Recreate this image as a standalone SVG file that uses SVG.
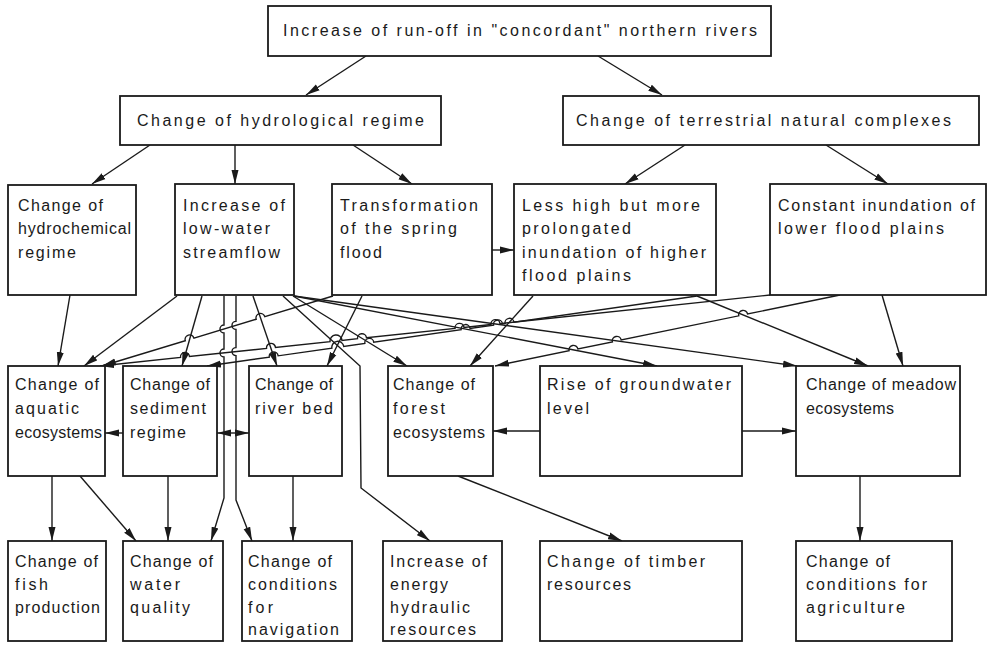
<svg xmlns="http://www.w3.org/2000/svg" width="996" height="656" viewBox="0 0 996 656">
  <defs>
    <marker id="arr" viewBox="0 0 14 8" refX="14" refY="4" markerWidth="14" markerHeight="8" markerUnits="userSpaceOnUse" orient="auto">
      <path d="M0,0.5 L14,4 L0,7.5 z" fill="#1a1a1a"/>
    </marker>
    <marker id="arrs" viewBox="0 0 14 8" refX="14" refY="4" markerWidth="14" markerHeight="8" markerUnits="userSpaceOnUse" orient="auto-start-reverse">
      <path d="M0,0.5 L14,4 L0,7.5 z" fill="#1a1a1a"/>
    </marker>
  </defs>
  <style>
    .box { fill: #fff; stroke: #1a1a1a; stroke-width: 1.8; }
    .t { font-family: "Liberation Sans", "DejaVu Sans", sans-serif; font-size: 16px; fill: #1a1a1a; }
    .h { font-family: "Liberation Sans Narrow", "Liberation Sans", sans-serif; font-size: 16px; fill: #1a1a1a; }
    .c { fill: none; stroke: #1a1a1a; stroke-width: 1.4; marker-end: url(#arr); }
    .cb { fill: none; stroke: #1a1a1a; stroke-width: 1.4; marker-start: url(#arrs); marker-end: url(#arr); }
  </style>
  <rect width="996" height="656" fill="#fff"/>

  <!-- connectors; crossing lines hop over each other with small arcs -->
  <g id="connectors">
    <line class="c" x1="366" y1="56" x2="306" y2="95"/>
    <line class="c" x1="598" y1="56" x2="662" y2="95"/>
    <line class="c" x1="150" y1="145" x2="92" y2="184"/>
    <line class="c" x1="235" y1="145" x2="235" y2="184"/>
    <line class="c" x1="353" y1="145" x2="412" y2="184"/>
    <line class="c" x1="685" y1="145" x2="625" y2="184"/>
    <line class="c" x1="826" y1="145" x2="888" y2="184"/>
    <line class="c" x1="492" y1="250" x2="514" y2="250"/>

    <!-- into the third row -->
    <line class="c" x1="70" y1="295" x2="58" y2="366"/>
    <line class="c" x1="177" y1="296" x2="84" y2="366"/>
    <line class="c" x1="202" y1="296" x2="182" y2="366"/>
    <path class="c" d="M224,296 L224,325 A4,4 0 0 0 224,333 L224,349 A4,4 0 0 0 224,357 L224,498 L211,541"/>
    <path class="c" d="M236,296 L236,321.4 A4,4 0 0 0 236,329.4 L236,347.6 A4,4 0 0 0 236,355.6 L236,500 L252,541"/>
    <line class="c" x1="253" y1="296" x2="277" y2="366"/>
    <polyline class="c" points="283,296 360,366 361,488 430,541"/>
    <line class="c" x1="293" y1="296" x2="407" y2="366"/>
    <line class="c" x1="294" y1="296" x2="657" y2="366"/>
    <line class="c" x1="294" y1="296" x2="797" y2="366"/>
    <path class="c" d="M333,296 L264.81,316.67 A4.5,4.5 0 0 0 256.19,319.27 L193.91,338.15 A4.5,4.5 0 0 0 185.29,340.75 L102,366"/>
    <line class="c" x1="362" y1="296" x2="327" y2="366"/>
    <line class="c" x1="533" y1="296" x2="470" y2="366"/>
    <path class="c" d="M697,296 L513.96,322.15 A4.5,4.5 0 0 0 505.05,323.42 L502.46,323.79 A4.5,4.5 0 0 0 493.55,325.07 L470.06,328.42 A4.5,4.5 0 0 0 461.15,329.69 L373.76,342.17 A4.5,4.5 0 0 0 364.85,343.45 L343.74,346.46 A6,6 0 0 0 331.86,348.16 L278.16,355.83 A4.5,4.5 0 0 0 269.25,357.11 L207,366"/>
    <line class="c" x1="697" y1="296" x2="868" y2="366"/>
    <path class="c" d="M770,295 L499.98,323.62 A4.5,4.5 0 0 0 491.02,324.56 L463.98,327.43 A4.5,4.5 0 0 0 455.02,328.37 L366.48,337.77 A4.5,4.5 0 0 0 357.52,338.71 L341.97,340.36 A6,6 0 0 0 330.03,341.62 L275.48,347.41 A4.5,4.5 0 0 0 266.52,348.35 L189.48,356.52 A4.5,4.5 0 0 0 180.52,357.46 L100,366"/>
    <path class="c" d="M840,295 L747.61,314.01 A4.5,4.5 0 0 0 738.79,315.83 L621.21,340.02 A4.5,4.5 0 0 0 612.39,341.84 L577.91,348.94 A4.5,4.5 0 0 0 569.09,350.76 L495,366"/>
    <line class="c" x1="882" y1="295" x2="903" y2="366"/>

    <!-- within the third row -->
    <line class="c" x1="123" y1="433" x2="105" y2="433"/>
    <line class="cb" x1="217" y1="433" x2="249" y2="433"/>
    <line class="c" x1="540" y1="431" x2="493" y2="431"/>
    <line class="c" x1="740" y1="431" x2="796" y2="431"/>

    <!-- into the bottom row -->
    <line class="c" x1="52" y1="476" x2="52" y2="541"/>
    <line class="c" x1="80" y1="476" x2="136" y2="541"/>
    <line class="c" x1="168" y1="476" x2="168" y2="541"/>
    <line class="c" x1="293" y1="476" x2="293" y2="541"/>
    <line class="c" x1="458" y1="476" x2="622" y2="541"/>
    <line class="c" x1="860" y1="476" x2="860" y2="541"/>
  </g>

  <!-- nodes -->
  <g id="n-runoff">
    <rect class="box" x="268" y="6" width="503" height="50"/>
    <text class="h" x="283" y="36" textLength="474" lengthAdjust="spacing">Increase of run-off in "concordant" northern rivers</text>
  </g>
  <g id="n-hydro">
    <rect class="box" x="120" y="96" width="321" height="49"/>
    <text class="h" x="137" y="126" textLength="287" lengthAdjust="spacing">Change of hydrological regime</text>
  </g>
  <g id="n-terr">
    <rect class="box" x="563" y="96" width="416" height="49"/>
    <text class="h" x="576" y="126" textLength="375" lengthAdjust="spacing">Change of terrestrial natural complexes</text>
  </g>

  <g id="n-hydrochem">
    <rect class="box" x="8" y="185" width="128" height="110"/>
    <text class="t" x="18" y="211" textLength="85" lengthAdjust="spacing">Change of</text>
    <text class="t" x="18" y="234" textLength="113" lengthAdjust="spacing">hydrochemical</text>
    <text class="t" x="18" y="258" textLength="58" lengthAdjust="spacing">regime</text>
  </g>
  <g id="n-lowwater">
    <rect class="box" x="175" y="184" width="119" height="111"/>
    <text class="t" x="183" y="211" textLength="102" lengthAdjust="spacing">Increase of</text>
    <text class="t" x="183" y="234" textLength="87" lengthAdjust="spacing">low-water</text>
    <text class="t" x="183" y="258" textLength="97" lengthAdjust="spacing">streamflow</text>
  </g>
  <g id="n-spring">
    <rect class="box" x="332" y="184" width="160" height="111"/>
    <text class="t" x="340" y="211" textLength="138" lengthAdjust="spacing">Transformation</text>
    <text class="t" x="340" y="234" textLength="117" lengthAdjust="spacing">of the spring</text>
    <text class="t" x="340" y="258" textLength="42" lengthAdjust="spacing">flood</text>
  </g>
  <g id="n-higher">
    <rect class="box" x="514" y="184" width="202" height="111"/>
    <text class="t" x="522" y="211" textLength="178" lengthAdjust="spacing">Less high but more</text>
    <text class="t" x="522" y="234" textLength="109" lengthAdjust="spacing">prolongated</text>
    <text class="t" x="522" y="258" textLength="184" lengthAdjust="spacing">inundation of higher</text>
    <text class="t" x="522" y="281" textLength="109" lengthAdjust="spacing">flood plains</text>
  </g>
  <g id="n-lower">
    <rect class="box" x="770" y="184" width="216" height="111"/>
    <text class="t" x="778" y="211" textLength="197" lengthAdjust="spacing">Constant inundation of</text>
    <text class="t" x="778" y="234" textLength="166" lengthAdjust="spacing">lower flood plains</text>
  </g>

  <g id="n-aquatic">
    <rect class="box" x="8" y="366" width="97" height="110"/>
    <text class="t" x="15" y="390" textLength="84" lengthAdjust="spacing">Change of</text>
    <text class="t" x="15" y="414" textLength="64" lengthAdjust="spacing">aquatic</text>
    <text class="t" x="15" y="438" textLength="87" lengthAdjust="spacing">ecosystems</text>
  </g>
  <g id="n-sediment">
    <rect class="box" x="123" y="366" width="94" height="110"/>
    <text class="t" x="130" y="390" textLength="80" lengthAdjust="spacing">Change of</text>
    <text class="t" x="130" y="414" textLength="76" lengthAdjust="spacing">sediment</text>
    <text class="t" x="130" y="438" textLength="56" lengthAdjust="spacing">regime</text>
  </g>
  <g id="n-riverbed">
    <rect class="box" x="249" y="366" width="93" height="110"/>
    <text class="t" x="255" y="390" textLength="78" lengthAdjust="spacing">Change of</text>
    <text class="t" x="255" y="414" textLength="78" lengthAdjust="spacing">river bed</text>
  </g>
  <g id="n-forest">
    <rect class="box" x="388" y="366" width="105" height="110"/>
    <text class="t" x="393" y="390" textLength="82" lengthAdjust="spacing">Change of</text>
    <text class="t" x="393" y="414" textLength="52" lengthAdjust="spacing">forest</text>
    <text class="t" x="393" y="438" textLength="92" lengthAdjust="spacing">ecosystems</text>
  </g>
  <g id="n-ground">
    <rect class="box" x="540" y="366" width="202" height="110"/>
    <text class="t" x="547" y="390" textLength="184" lengthAdjust="spacing">Rise of groundwater</text>
    <text class="t" x="547" y="414" textLength="42" lengthAdjust="spacing">level</text>
  </g>
  <g id="n-meadow">
    <rect class="box" x="796" y="366" width="164" height="110"/>
    <text class="t" x="806" y="390" textLength="150" lengthAdjust="spacing">Change of meadow</text>
    <text class="t" x="806" y="414" textLength="88" lengthAdjust="spacing">ecosystems</text>
  </g>

  <g id="n-fish">
    <rect class="box" x="8" y="541" width="98" height="100"/>
    <text class="t" x="15" y="567" textLength="83" lengthAdjust="spacing">Change of</text>
    <text class="t" x="15" y="590" textLength="33" lengthAdjust="spacing">fish</text>
    <text class="t" x="15" y="613" textLength="85" lengthAdjust="spacing">production</text>
  </g>
  <g id="n-quality">
    <rect class="box" x="123" y="541" width="100" height="100"/>
    <text class="t" x="130" y="567" textLength="83" lengthAdjust="spacing">Change of</text>
    <text class="t" x="130" y="590" textLength="50" lengthAdjust="spacing">water</text>
    <text class="t" x="130" y="613" textLength="60" lengthAdjust="spacing">quality</text>
  </g>
  <g id="n-navigation">
    <rect class="box" x="242" y="541" width="110" height="100"/>
    <text class="t" x="248" y="567" textLength="84" lengthAdjust="spacing">Change of</text>
    <text class="t" x="248" y="590" textLength="89" lengthAdjust="spacing">conditions</text>
    <text class="t" x="248" y="613" textLength="25" lengthAdjust="spacing">for</text>
    <text class="t" x="248" y="635" textLength="91" lengthAdjust="spacing">navigation</text>
  </g>
  <g id="n-energy">
    <rect class="box" x="383" y="541" width="119" height="100"/>
    <text class="t" x="390" y="567" textLength="97" lengthAdjust="spacing">Increase of</text>
    <text class="t" x="390" y="590" textLength="58" lengthAdjust="spacing">energy</text>
    <text class="t" x="390" y="613" textLength="80" lengthAdjust="spacing">hydraulic</text>
    <text class="t" x="390" y="635" textLength="86" lengthAdjust="spacing">resources</text>
  </g>
  <g id="n-timber">
    <rect class="box" x="540" y="541" width="202" height="100"/>
    <text class="t" x="547" y="567" textLength="158" lengthAdjust="spacing">Change of timber</text>
    <text class="t" x="547" y="590" textLength="84" lengthAdjust="spacing">resources</text>
  </g>
  <g id="n-agri">
    <rect class="box" x="796" y="541" width="156" height="100"/>
    <text class="t" x="806" y="567" textLength="84" lengthAdjust="spacing">Change of</text>
    <text class="t" x="806" y="590" textLength="121" lengthAdjust="spacing">conditions for</text>
    <text class="t" x="806" y="613" textLength="99" lengthAdjust="spacing">agriculture</text>
  </g>
</svg>
